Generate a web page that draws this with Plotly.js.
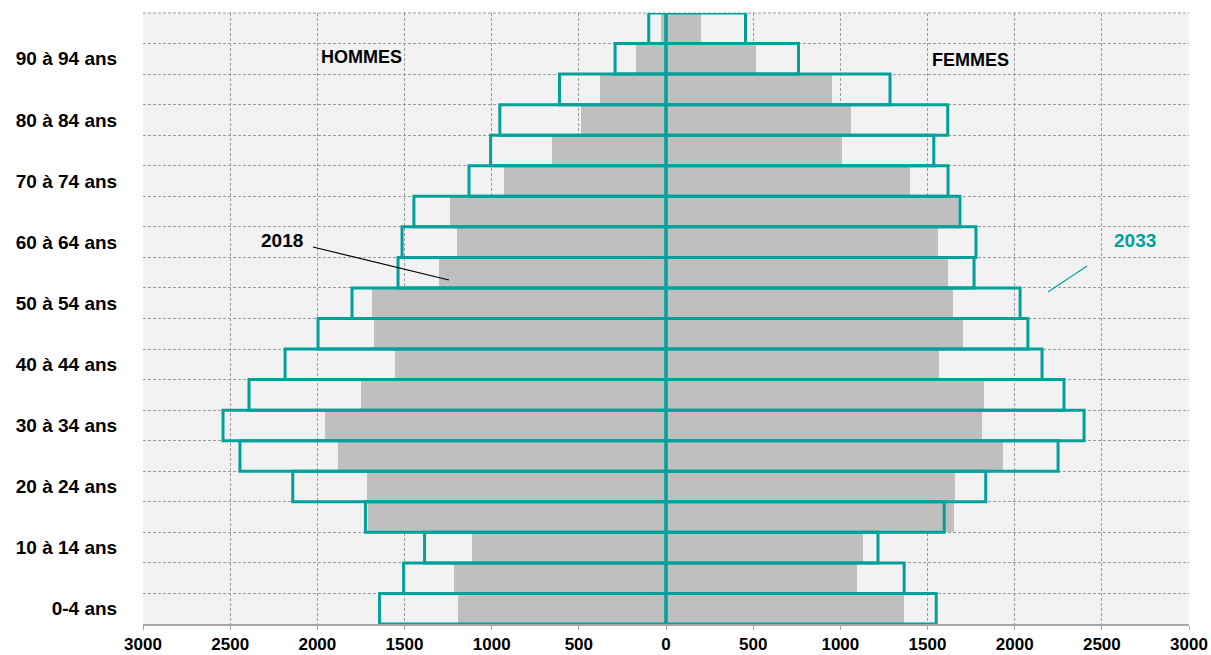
<!DOCTYPE html>
<html>
<head>
<meta charset="utf-8">
<script src="https://cdn.plot.ly/plotly-3.0.1.min.js"></script>
<style>
  html, body { margin: 0; padding: 0; background: #fff; }
  #graph { width: 1211px; height: 655px; }
</style>
</head>
<body>
<div id="graph"></div>
<script>
// ---- data (population by age group, 2018 vs 2033) ----
const ageGroups = ['0-4 ans', '5 à 9 ans', '10 à 14 ans', '15 à 19 ans', '20 à 24 ans',
    '25 à 29 ans', '30 à 34 ans', '35 à 39 ans', '40 à 44 ans', '45 à 49 ans',
    '50 à 54 ans', '55 à 59 ans', '60 à 64 ans', '65 à 69 ans', '70 à 74 ans',
    '75 à 79 ans', '80 à 84 ans', '85 à 89 ans', '90 à 94 ans', '95 ans et +'];

const men2018   = [1195, 1215, 1115, 1712, 1715, 1881, 1956, 1750, 1555, 1675, 1686, 1302, 1199, 1239, 929, 656, 488, 378, 174, 30];
const women2018 = [1364, 1097, 1131, 1650, 1658, 1933, 1813, 1824, 1566, 1704, 1646, 1618, 1560, 1675, 1400, 1008, 1064, 952, 516, 198];
const men2033   = [1643, 1505, 1385, 1724, 2141, 2444, 2541, 2392, 2185, 1996, 1801, 1537, 1514, 1446, 1130, 1006, 953, 611, 292, 99];
const women2033 = [1550, 1366, 1216, 1596, 1834, 2249, 2398, 2283, 2157, 2076, 2031, 1767, 1778, 1686, 1618, 1536, 1616, 1285, 760, 456];

const xTicks = [-3000, -2500, -2000, -1500, -1000, -500, 0, 500, 1000, 1500, 2000, 2500, 3000];

const TEAL = '#00a19b';
const GREY = '#bfbfbf';
const GRID = '#9a9a9a';

// ---- traces ----
const idx = ageGroups.map((_, i) => i);
const neg = arr => arr.map(v => -v);

function greyBars(values) {
    return {
        type: 'bar', orientation: 'h',
        x: values, y: idx,
        width: 1,
        marker: { color: GREY, line: { width: 0 } },
        hoverinfo: 'skip', showlegend: false
    };
}

function outlineBars(values) {
    return {
        type: 'bar', orientation: 'h',
        x: values, y: idx,
        width: 1,
        marker: { color: 'rgba(0,0,0,0)', line: { color: TEAL, width: 3 } },
        hoverinfo: 'skip', showlegend: false
    };
}

const traces = [
    greyBars(neg(men2018)),
    greyBars(women2018),
    outlineBars(neg(men2033)),
    outlineBars(women2033)
];

// labels on every other age group
const labelIdx = idx.filter(i => i % 2 === 0 && i < 19);

const layout = {
    width: 1211, height: 655,
    margin: { l: 143, r: 22, t: 13, b: 31 },
    paper_bgcolor: '#ffffff',
    plot_bgcolor: '#f2f2f2',
    barmode: 'overlay',
    bargap: 0,
    font: { family: 'Liberation Sans, Arial, sans-serif', color: '#000' },
    xaxis: {
        range: [-3000, 3000],
        tickvals: xTicks,
        ticktext: xTicks.map(v => String(Math.abs(v))),
        tickfont: { size: 17, family: 'Liberation Sans, Arial, sans-serif', weight: 'bold' },
        showgrid: true, gridcolor: GRID, griddash: '3px,2px', gridwidth: 1,
        zeroline: false,
        showline: true, linecolor: '#a6a6a6', linewidth: 2,
        ticks: 'outside', ticklen: 4, tickcolor: '#a6a6a6',
        fixedrange: true
    },
    yaxis: {
        range: [-0.5, 19.5],
        tickvals: labelIdx,
        ticktext: labelIdx.map(i => ageGroups[i]),
        tickfont: { size: 19, family: 'Liberation Sans, Arial, sans-serif', weight: 'bold' },
        ticks: 'outside', ticklen: 21, tickcolor: 'rgba(0,0,0,0)',
        showgrid: false,
        minor: { tick0: -0.5, dtick: 1, showgrid: true, gridcolor: GRID, griddash: '3px,2px', gridwidth: 1, ticks: '' },
        zeroline: false, showline: false,
        fixedrange: true
    },
    annotations: [
        { x: -1744, y: 18.06, text: 'HOMMES', showarrow: false,
          font: { size: 18, weight: 'bold', color: '#000' } },
        { x: 1749, y: 17.96, text: 'FEMMES', showarrow: false,
          font: { size: 18, weight: 'bold', color: '#000' } },
        { x: -2203, y: 12.04, text: '2018', showarrow: false,
          font: { size: 19, weight: 'bold', color: '#000' } },
        { x: 2690, y: 12.04, text: '2033', showarrow: false,
          font: { size: 19, weight: 'bold', color: TEAL } },
        // top border of the plot area (dashed, like the grid)
    ],
    shapes: [
        { type: 'line', xref: 'x', yref: 'y', x0: -2025, y0: 11.84, x1: -1245, y1: 10.76,
          line: { color: '#000', width: 1.2 } },
        { type: 'line', xref: 'x', yref: 'y', x0: 2191, y0: 10.37, x1: 2415, y1: 11.22,
          line: { color: TEAL, width: 1.2 } },
        { type: 'line', xref: 'paper', yref: 'paper', x0: 0, y0: 1, x1: 1, y1: 1, layer: 'below',
          line: { color: GRID, width: 1, dash: '3px,2px' } }
    ]
};

Plotly.newPlot('graph', traces, layout, { displayModeBar: false, staticPlot: true });
</script>
</body>
</html>
